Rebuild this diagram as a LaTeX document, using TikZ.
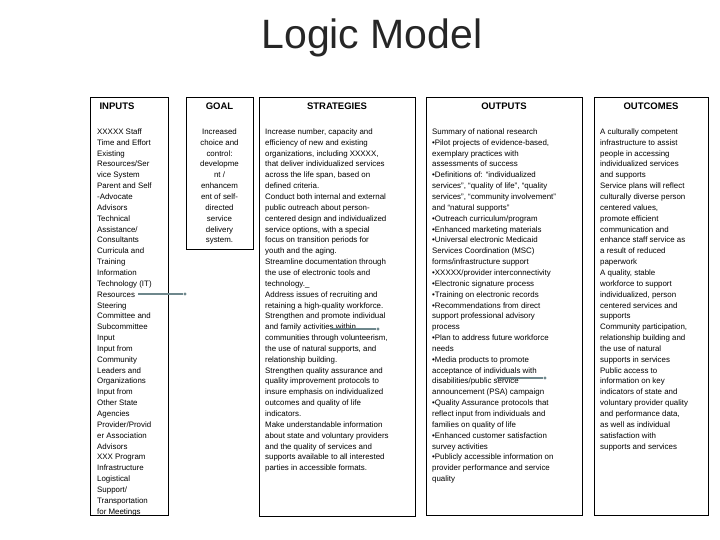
\documentclass[tikz,border=0pt]{standalone}
\usepackage{fontspec}
\setmainfont{Liberation Sans}
\begin{document}
\begin{tikzpicture}[x=1pt,y=-1pt,
 box/.style={draw=black,line width=0.8pt},
 head/.style={anchor=north,font=\bfseries\fontsize{9.5}{12}\selectfont},
 body/.style={anchor=north west,align=left,inner sep=0pt,font=\fontsize{7.9}{10.85}\selectfont},
 cbody/.style={anchor=north,align=center,inner sep=0pt,font=\fontsize{7.9}{10.85}\selectfont},
 conn/.style={draw={rgb,255:red,110;green,135;blue,140},line width=1.2pt},
 dotend/.style={fill={rgb,255:red,110;green,135;blue,140},circle,inner sep=1.2pt}]
\useasboundingbox (0,0) rectangle (720,540);
\node[font=\fontsize{41}{46}\selectfont,text=black!85] (title) at (372,38) {Logic Model};
\node[box,minimum width=78,minimum height=418,anchor=north west] (in) at (90,97) {};
\node[box,minimum width=67,minimum height=152,anchor=north west] (go) at (186,97) {};
\node[box,minimum width=156,minimum height=419,anchor=north west] (st) at (259,97) {};
\node[box,minimum width=156,minimum height=418,anchor=north west] (ou) at (426,97) {};
\node[box,minimum width=114,minimum height=418,anchor=north west] (oc) at (594,97) {};
\node[head] (hin) at (117,99) {INPUTS};
\node[head] (hgo) at (219.5,99) {GOAL};
\node[head] (hst) at (337,99) {STRATEGIES};
\node[head] (hou) at (504,99) {OUTPUTS};
\node[head] (hoc) at (651,99) {OUTCOMES};
\node[body] (tin) at (97,128.5) {XXXXX Staff\\Time and Effort\\Existing\\Resources/Ser\\vice System\\Parent and Self\\-Advocate\\Advisors\\Technical\\Assistance/\\Consultants\\Curricula and\\Training\\Information\\Technology (IT)\\Resources\\Steering\\Committee and\\Subcommittee\\Input\\Input from\\Community\\Leaders and\\Organizations\\Input from\\Other State\\Agencies\\Provider/Provid\\er Association\\Advisors\\XXX Program\\Infrastructure\\Logistical\\Support/\\Transportation\\for Meetings};
\node[cbody] (tgo) at (219.5,128.5) {Increased\\choice and\\control:\\developme\\nt /\\enhancem\\ent of self-\\directed\\service\\delivery\\system.};
\node[body] (tst) at (265,128.5) {Increase number, capacity and\\efficiency of new and existing\\organizations, including XXXXX,\\that deliver individualized services\\across the life span, based on\\defined criteria.\\Conduct both internal and external\\public outreach about person-\\centered design and individualized\\service options, with a special\\focus on transition periods for\\youth and the aging.\\Streamline documentation through\\the use of electronic tools and\\technology.\_\\Address issues of recruiting and\\retaining a high-quality workforce.\\Strengthen and promote individual\\and family activities within\\communities through volunteerism,\\the use of natural supports, and\\relationship building.\\Strengthen quality assurance and\\quality improvement protocols to\\insure emphasis on individualized\\outcomes and quality of life\\indicators.\\Make understandable information\\about state and voluntary providers\\and the quality of services and\\supports available to all interested\\parties in accessible formats.};
\node[body] (tou) at (432,128.5) {Summary of national research\\•Pilot projects of evidence-based,\\exemplary practices with\\assessments of success\\•Definitions of: ``individualized\\services'', ``quality of life'', ``quality\\services'', ``community involvement''\\and ``natural supports''\\•Outreach curriculum/program\\•Enhanced marketing materials\\•Universal electronic Medicaid\\Services Coordination (MSC)\\forms/infrastructure support\\•XXXXX/provider interconnectivity\\•Electronic signature process\\•Training on electronic records\\•Recommendations from direct\\support professional advisory\\process\\•Plan to address future workforce\\needs\\•Media products to promote\\acceptance of individuals with\\disabilities/public service\\announcement (PSA) campaign\\•Quality Assurance protocols that\\reflect input from individuals and\\families on quality of life\\•Enhanced customer satisfaction\\survey activities\\•Publicly accessible information on\\provider performance and service\\quality};
\node[body] (toc) at (600,128.5) {A culturally competent\\infrastructure to assist\\people in accessing\\individualized services\\and supports\\Service plans will reflect\\culturally diverse person\\centered values,\\promote efficient\\communication and\\enhance staff service as\\a result of reduced\\paperwork\\A quality, stable\\workforce to support\\individualized, person\\centered services and\\supports\\Community participation,\\relationship building and\\the use of natural\\supports in services\\Public access to\\information on key\\indicators of state and\\voluntary provider quality\\and performance data,\\as well as individual\\satisfaction with\\supports and services};
\coordinate (a1) at (138,294); \node[dotend] (e1) at (185,294) {};
\draw[conn] (a1) -- (e1);
\coordinate (a2) at (330,329); \node[dotend] (e2) at (378,329) {};
\draw[conn] (a2) -- (e2);
\coordinate (a3) at (497,378); \node[dotend] (e3) at (545,378) {};
\draw[conn] (a3) -- (e3);
\end{tikzpicture}
\end{document}
